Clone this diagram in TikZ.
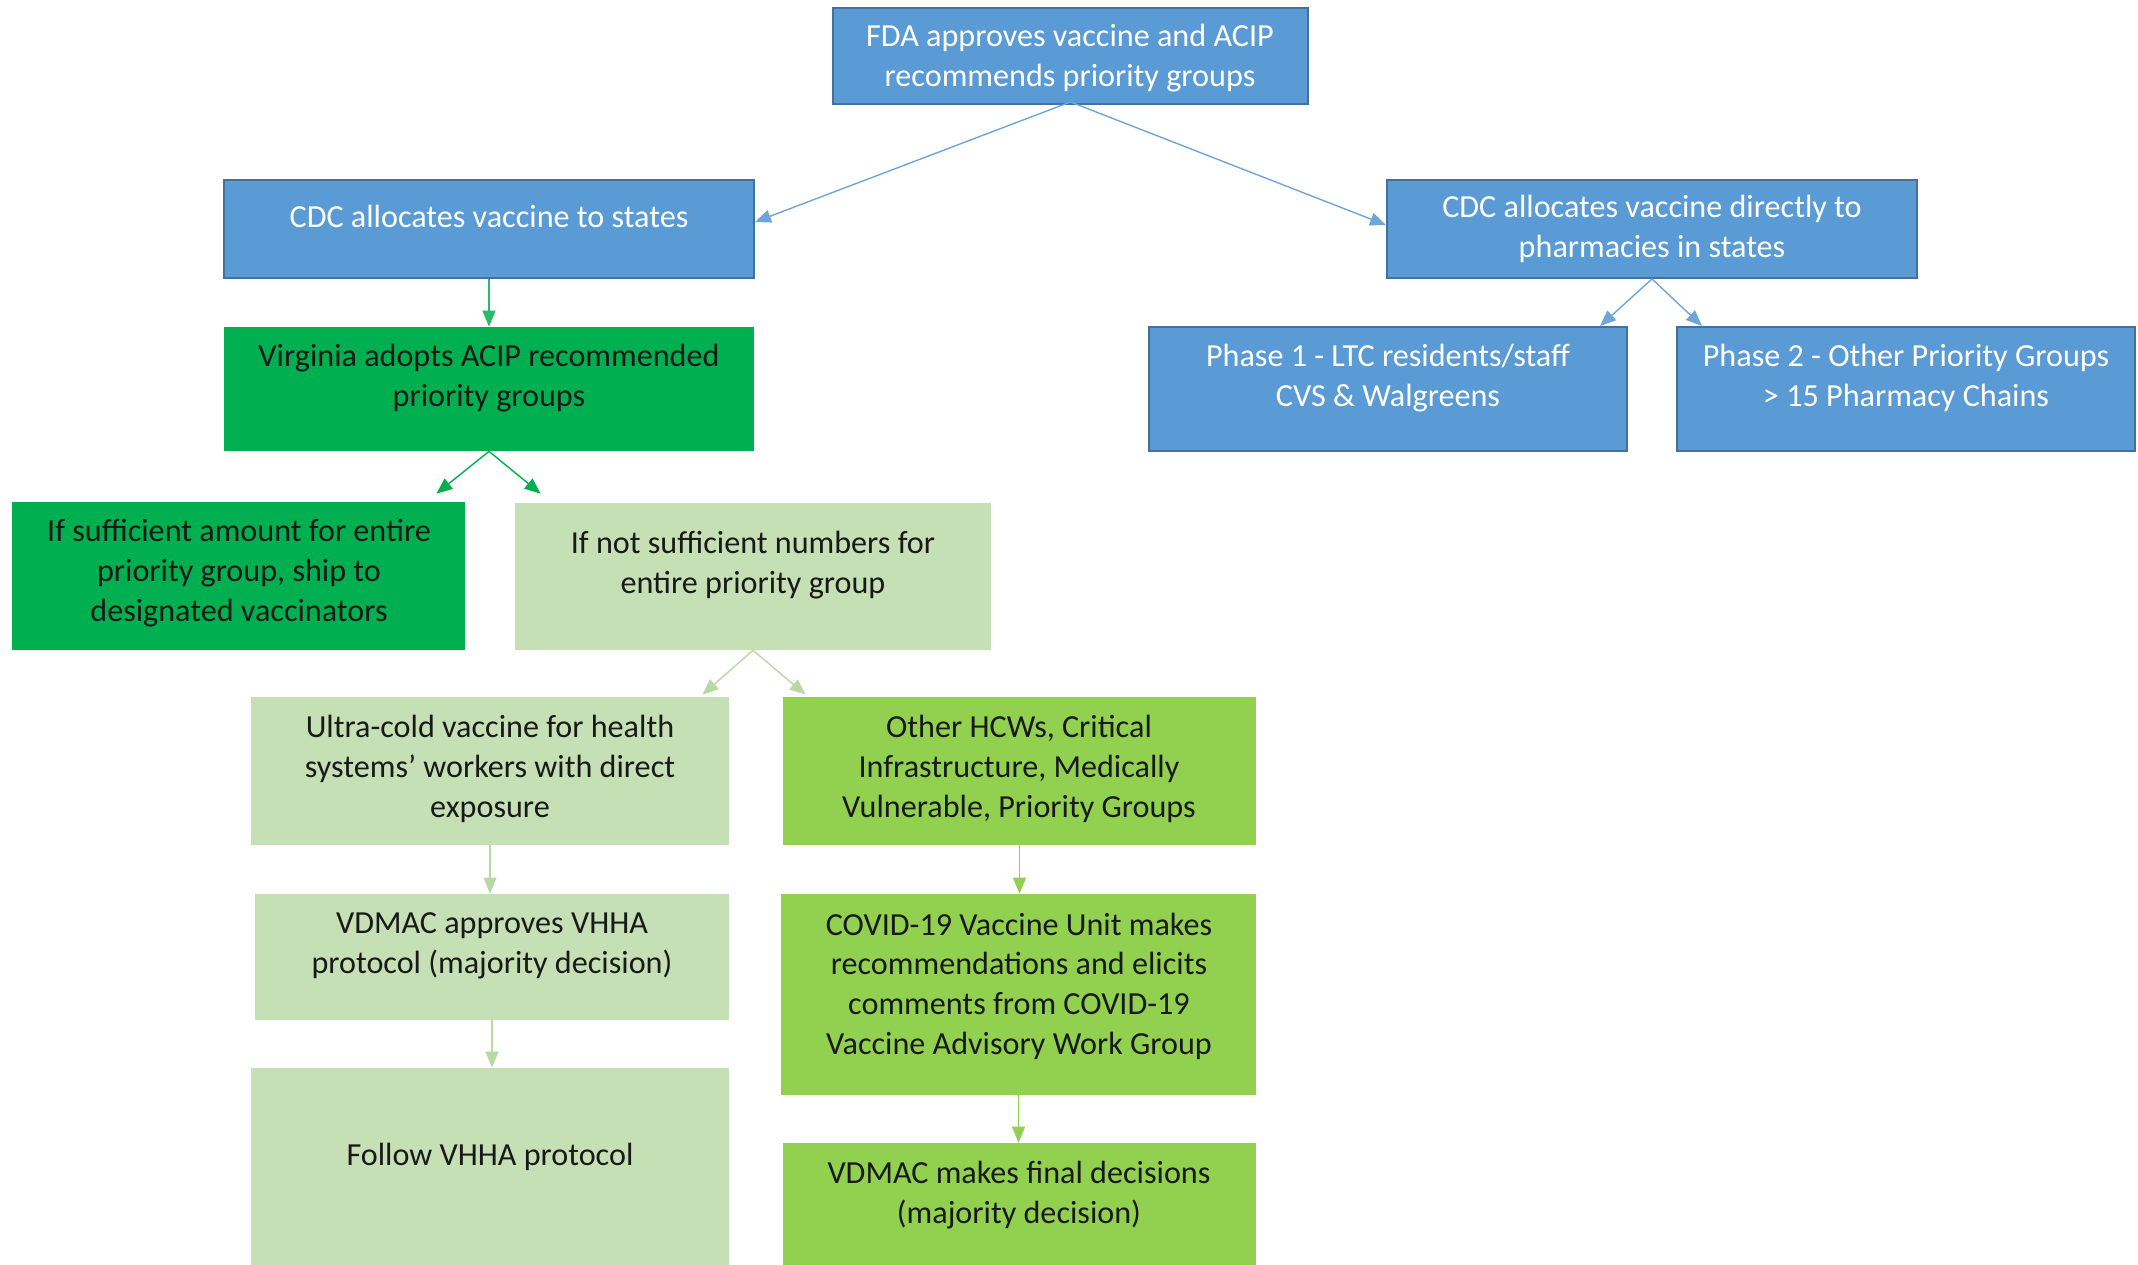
\documentclass[tikz,border=0pt]{standalone}
\usepackage{fontspec}
\setmainfont{Carlito}
\usetikzlibrary{arrows.meta,fit}
\definecolor{bluefill}{HTML}{5B9BD5}
\definecolor{blueline}{HTML}{41719C}
\definecolor{bluearrow}{HTML}{6FA6DA}
\definecolor{darkgreen}{HTML}{00B050}
\definecolor{lightgreen}{HTML}{C5E0B4}
\definecolor{lightarrow}{HTML}{B9D9A4}
\definecolor{midgreen}{HTML}{92D050}
\begin{document}
\begin{tikzpicture}[x=0.02cm,y=-0.02cm]

    \tikzset{
      box/.style={
        rectangle,
        inner sep=0pt,
      },
      bluebox/.style={box, fill=bluefill, draw=blueline, line width=1.1pt},
      darkbox/.style={box, fill=darkgreen},
      lightbox/.style={box, fill=lightgreen},
      midbox/.style={box, fill=midgreen},
      lbl/.style={
        align=center,
        inner sep=0pt,
        font=\fontsize{18.3}{22.6}\selectfont,
        text=black!90,
      },
      conn/.style={line width=0.8pt, -{Triangle[length=0.32cm,width=0.26cm]}},
    }
    \useasboundingbox (0,0) rectangle (2138,1265);

    % boxes
    \node[bluebox, fit={(833,8) (1308,104)}] (fda) {};
    \node[bluebox, fit={(224,180) (754,278)}] (cdcs) {};
    \node[bluebox, fit={(1387,180) (1917,278)}] (pharm) {};
    \node[bluebox, fit={(1149,327) (1627,451)}] (ph1) {};
    \node[bluebox, fit={(1677,327) (2135,451)}] (ph2) {};
    \node[darkbox, fit={(224,327) (754,451)}] (virg) {};
    \node[darkbox, fit={(12,502) (465,650)}] (suff) {};
    \node[lightbox, fit={(515,503) (991,650)}] (notsuff) {};
    \node[lightbox, fit={(251,697) (729,845)}] (ultra) {};
    \node[midbox, fit={(783,697) (1256,845)}] (other) {};
    \node[lightbox, fit={(255,894) (729,1020)}] (vdap) {};
    \node[midbox, fit={(781,894) (1256,1095)}] (covid) {};
    \node[lightbox, fit={(251,1068) (729,1280)}] (follow) {};
    \node[midbox, fit={(783,1143) (1256,1280)}] (final) {};

    % texts
    \node[lbl, text=white] (fda-t) at (1070,58) {FDA approves vaccine and ACIP\\recommends priority groups};
    \node[lbl, text=white] (cdcs-t) at (489,216) {CDC allocates vaccine to states};
    \node[lbl, text=white] (pharm-t) at (1652,229) {CDC allocates vaccine directly to\\pharmacies in states};
    \node[lbl, text=white] (ph1-t) at (1388,378) {Phase 1 - LTC residents/staff\\CVS \& Walgreens};
    \node[lbl, text=white] (ph2-t) at (1906,378) {Phase 2 - Other Priority Groups\\> 15 Pharmacy Chains};
    \node[lbl] (virg-t) at (489,378) {Virginia adopts ACIP recommended\\priority groups};
    \node[lbl] (suff-t) at (239,573) {If sufficient amount for entire\\priority group, ship to\\designated vaccinators};
    \node[lbl] (notsuff-t) at (753,565) {If not sufficient numbers for\\entire priority group};
    \node[lbl] (ultra-t) at (490,769) {Ultra-cold vaccine for health\\systems’ workers with direct\\exposure};
    \node[lbl] (other-t) at (1019,769) {Other HCWs, Critical\\Infrastructure, Medically\\Vulnerable, Priority Groups};
    \node[lbl] (vdap-t) at (492,946) {VDMAC approves VHHA\\protocol (majority decision)};
    \node[lbl] (covid-t) at (1019,986) {COVID-19 Vaccine Unit makes\\recommendations and elicits\\comments from COVID-19\\Vaccine Advisory Work Group};
    \node[lbl] (follow-t) at (490,1157) {Follow VHHA protocol};
    \node[lbl] (final-t) at (1019,1195) {VDMAC makes final decisions\\(majority decision)};

    % connectors
    \draw[conn, bluearrow] ([yshift=0.06cm]fda.south) -- ([yshift=0.14cm]cdcs.east);
    \draw[conn, bluearrow] ([yshift=0.06cm]fda.south) -- ([yshift=0.08cm]pharm.west);
    \draw[conn, bluearrow] (pharm.south) -- ([shift={(-28,0)}]ph1.north east);
    \draw[conn, bluearrow] (pharm.south) -- ([shift={(26,0)}]ph2.north west);
    \draw[conn, darkgreen!85] (cdcs.south) -- (cdcs.south |- virg.north);
    \draw[conn, darkgreen] (virg.south) -- ([shift={(-29,-8)}]suff.north east);
    \draw[conn, darkgreen] (virg.south) -- ([shift={(26,-9)}]notsuff.north west);
    \draw[conn, lightarrow] (notsuff.south) -- ([shift={(-27,-2)}]ultra.north east);
    \draw[conn, lightarrow] (notsuff.south) -- ([shift={(23,-2)}]other.north west);
    \draw[conn, lightarrow] (ultra.south) -- (ultra.south |- vdap.north);
    \draw[conn, lightarrow] (vdap.south) -- (vdap.south |- follow.north);
    \draw[conn, midgreen] (other.south) -- (other.south |- covid.north);
    \draw[conn, midgreen] (covid.south) -- (covid.south |- final.north);

\end{tikzpicture}
\end{document}
